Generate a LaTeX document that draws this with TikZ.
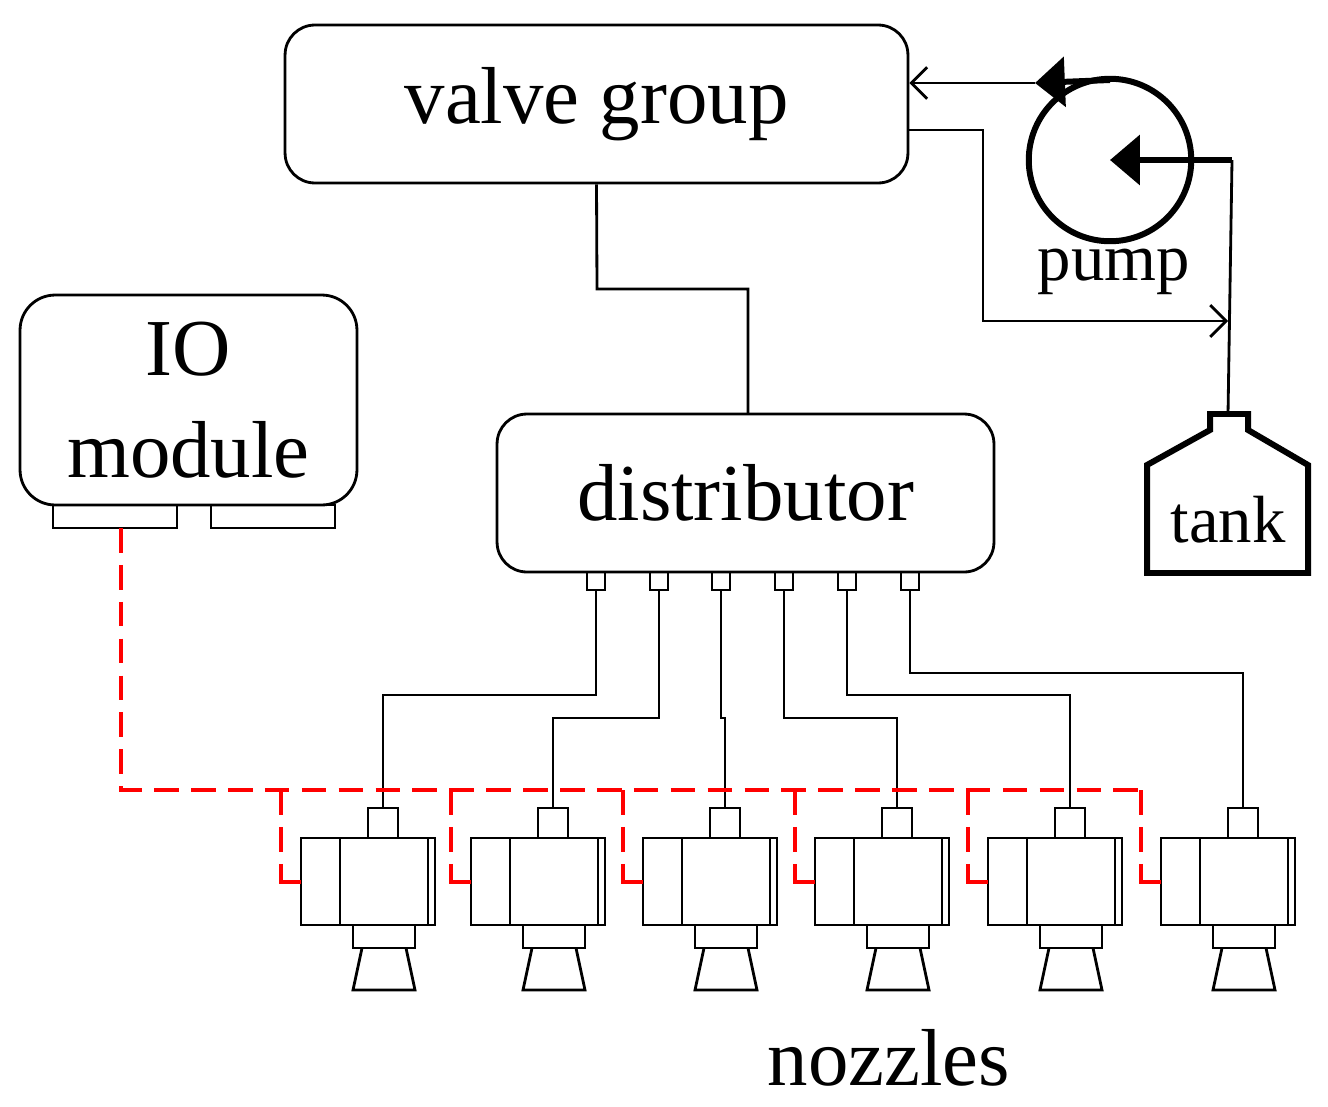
\documentclass[tikz,border=0pt]{standalone}
\usepackage{fontspec}
\setmainfont{Liberation Serif}
\usetikzlibrary{arrows.meta,positioning,calc}

\begin{document}
\begin{tikzpicture}[
    x=0.02cm, y=-0.02cm,
    box/.style={rectangle, draw, line width=1.6pt, rounded corners=17pt, align=center, inner sep=0pt},
    bigtext/.style={font=\fontsize{46}{50}\selectfont},
    wire/.style={line width=1.6pt},
    bus/.style={red, line width=2.3pt, dash pattern=on 14pt off 7pt},
    thickline/.style={line width=3.4pt},
    open/.style={-{Straight Barb[length=9pt,width=18pt]}},
    filled/.style={-{Triangle[length=17pt,width=28pt]}}
]
    \useasboundingbox (0,0) rectangle (1328,1106);
    % boxes
    \node[box, bigtext, minimum width=12.46cm, minimum height=3.16cm] (valve) at (596.5,104) {valve group};
    \node[box, bigtext, minimum width=6.74cm, minimum height=4.2cm, rounded corners=20pt] (io) at (188.5,400) {IO\\[8pt]module};
    \node[box, bigtext, minimum width=9.94cm, minimum height=3.16cm] (dist) at (745.5,493) {distributor};
    \draw[wire] (53,505) rectangle (177,528) (211,505) rectangle (335,528);

    % pump and tank
    \node[circle, draw, thickline, minimum size=3.25cm, inner sep=0pt] (pump) at (1110,160) {};
    \node[font=\fontsize{38}{40}\selectfont] (pumplbl) at (1114,272) {pump};
    \draw[thickline, line join=miter] (1228,573) -- (1147,573) -- (1147,465) -- (1210,430) -- (1210,414)
        -- (1248,414) -- (1248,430) -- (1308,465) -- (1308,573) -- cycle;
    \node[font=\fontsize{38}{40}\selectfont] (tank) at (1228,520) {tank};
    \coordinate (tanktop) at (1228,414);
    \coordinate (pin) at (1232,160);
    \coordinate (pout) at (1035,83);

    \draw[thickline, filled] (1110,80) -- (pout);
    \draw[wire, open] (pout) -- (valve.east |- pout);
    \draw[thickline, filled] (pin) -- (pump.center);
    \draw[wire] (pin) -- (tanktop);
    \draw[wire, open] (valve.east |- 0,130) -- (983,130) -- (983,321) -- (1228,321);
    \draw[wire] (valve.south) -- (597,289) -- (748,289) -- (748,414);

    % ports and nozzles
    \foreach \i/\px/\nx/\yy in {1/596/301/695, 2/659/471/718, 3/721/643/718, 4/784/815/718, 5/847/988/695, 6/910/1161/673}{
        \draw[wire] (\px-9,572) rectangle (\px+9,590);
        \coordinate (cap\i) at (\nx+82,808);
        \draw[wire] (\nx,838) rectangle (\nx+134,925);
        \draw[wire] (\nx+39,838) -- (\nx+39,925) (\nx+127,838) -- (\nx+127,925);
        \draw[wire] (\nx+67,808) rectangle (\nx+97,838);
        \draw[wire] (\nx+52,925) rectangle (\nx+114,948);
        \draw[wire] (\nx+61,948) -- (\nx+52,990) -- (\nx+114,990) -- (\nx+105,948);
        \draw[wire] (\px,590) -- (\px,\yy) -- (cap\i |- 0,\yy) -- (cap\i);
    }
    \node[bigtext] (nozzles) at (889,1058) {nozzles};

    % IO bus
    \draw[bus] (121,528) -- (121,790) -- (1148,790);
    \foreach \nx in {301,471,643,815,988,1161}{
        \draw[bus] (\nx-20,790) -- (\nx-20,870);
        \draw[red, line width=2.3pt] (\nx-20,868) -- (\nx-20,882) -- (\nx,882);
    }
\end{tikzpicture}
\end{document}
